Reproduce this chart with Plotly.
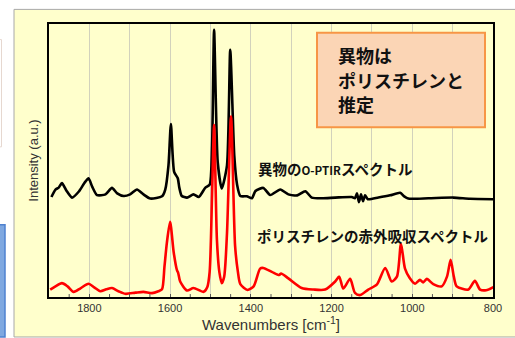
import plotly.graph_objects as go

# ---- data ----
optir_wn = [1894, 1884, 1876, 1868, 1857, 1843, 1826, 1812, 1802, 1793, 1781, 1760, 1744, 1731,
            1715, 1699, 1682, 1666, 1649, 1620, 1612, 1604, 1598, 1590, 1581, 1577, 1571, 1558,
            1542, 1529, 1513, 1502, 1496, 1491, 1482, 1472, 1459, 1451, 1441, 1434, 1426, 1410,
            1397, 1389, 1369, 1352, 1327, 1307, 1285, 1265, 1249, 1224, 1191, 1150, 1142, 1137,
            1132, 1127, 1122, 1117, 1110, 1084, 1055, 1030, 1020, 1010, 960, 898, 857, 799]
optir_int = [101.3, 109, 111, 115.7, 108, 100.7, 107, 116, 120.7, 112, 103.3, 104, 110.7, 105,
             102.3, 104, 109, 104, 99.7, 102, 109, 134, 176.7, 127.3, 120.7, 110.7, 102.3, 100.7,
             104, 101.3, 110.7, 114, 154, 274, 137.3, 110, 134, 253.3, 144, 114, 102.3, 102,
             100, 107.3, 110.7, 103.3, 109, 104, 103, 107.3, 100.7, 100, 100.7, 101.3, 100, 105,
             96, 104, 97, 103, 99, 100.7, 103, 105.7, 102, 99.7, 100, 100.7, 99.5, 99]

ps_wn = [1897, 1884, 1868, 1854, 1839, 1822, 1802, 1788, 1773, 1758, 1744, 1728, 1711, 1686,
         1666, 1645, 1629, 1620, 1614, 1608, 1600, 1591, 1583, 1580, 1575, 1558, 1542, 1517,
         1508, 1502, 1496, 1491, 1484, 1478, 1472, 1466, 1459, 1449, 1439, 1432, 1426, 1408,
         1393, 1377, 1369, 1348, 1330, 1325, 1307, 1274, 1245, 1216, 1191, 1181, 1171, 1154,
         1142, 1129, 1109, 1088, 1067, 1051, 1038, 1028, 1018, 1006, 993, 981, 973, 964,
         948, 927, 914, 905, 897, 890, 861, 845, 832, 817, 799]
ps_int = [5.7, 9, 12.3, 9, 3.3, 7, 11.7, 8, 4, 6, 7.3, 4, 1.3, 2.5,
          3.3, 2, 4, 6, 29, 54, 75.7, 44, 25.7, 23, 14, 4.7, 7.3, 3.3,
          8, 24, 104, 175.7, 57.3, 24, 12.3, 19, 64, 184.7, 51, 24, 11.3, 5.3,
          9, 27.3, 28, 24, 20.7, 22.3, 17.3, 7.3, 5.7, 5.7, 14, 19, 6.7, 16.7,
          2.3, 0, 5.7, 10.7, 28, 14, 19, 53, 27.3, 17.3, 11.7, 15.7, 13, 16.7,
          11.3, 9, 19, 36.3, 19, 9, 5.7, 14.7, 5.7, 5, 8.3]

tick_vals = [1800, 1600, 1400, 1200, 1000, 800]
grid_vals = [1900, 1800, 1700, 1600, 1500, 1400, 1300, 1200, 1100, 1000, 900, 800]
minor_tick_vals = [1850, 1750, 1650, 1550, 1450, 1350, 1250, 1150, 1050, 950, 850]

label_optir = "異物の<span style='font-size:11.5px'>O-PTIR</span>スペクトル"
label_ps = "ポリスチレンの赤外吸収スペクトル"
box_lines = ["異物は", "ポリスチレンと", "推定"]

# ---- layout helpers (pixel -> paper) ----
W, H = 515, 338
L, R, T, B = 49, 22, 24, 34
PW, PH = W - L - R, H - T - B


def px(x):
    return (x - L) / PW


def py(y):
    return (H - B - y) / PH


YELLOW = "#FFFFCC"
JP = "Noto Sans CJK JP"

fig = go.Figure()
fig.add_trace(go.Scatter(x=optir_wn, y=optir_int, mode="lines",
                         line=dict(color="black", width=2.6, shape="spline", smoothing=0.6),
                         showlegend=False))
fig.add_trace(go.Scatter(x=ps_wn, y=ps_int, mode="lines",
                         line=dict(color="#FF0000", width=2.6, shape="spline", smoothing=0.7),
                         showlegend=False))

shapes = [
    # slide panel
    dict(type="rect", xref="paper", yref="paper", x0=px(14), x1=px(520), y0=py(345), y1=py(9),
         fillcolor=YELLOW, line=dict(color="#A8A8A8", width=1), layer="below"),
    # blue fragment at left
    dict(type="rect", xref="paper", yref="paper", x0=px(-2), x1=px(5), y0=py(345), y1=py(230),
         fillcolor="#7FA8E0", line=dict(color="#4F81CF", width=1.5), layer="below"),
    # faint fragment at left
    dict(type="rect", xref="paper", yref="paper", x0=px(-5), x1=px(1.5), y0=py(150), y1=py(40),
         fillcolor="rgba(0,0,0,0)", line=dict(color="#E6D8D0", width=1), layer="below"),
    # callout box
    dict(type="rect", xref="paper", yref="paper", x0=px(317), x1=px(485), y0=py(130), y1=py(33),
         fillcolor="#FBD5B5", line=dict(color="#F79646", width=2)),
]
# small inside ticks at the half-hundreds
for v in minor_tick_vals:
    shapes.append(dict(type="line", xref="x", yref="paper", x0=v, x1=v, y0=0, y1=3 / PH,
                       line=dict(color="#555555", width=1)))

annotations = []
for i, t in enumerate(box_lines):
    annotations.append(dict(xref="paper", yref="paper", x=px(336), y=py(56 + 25 * i),
                            xanchor="left", yanchor="middle", showarrow=False, text=t,
                            font=dict(family=JP, size=18, color="#111111", weight="bold")))
annotations.append(dict(xref="paper", yref="paper", x=px(256), y=py(172), xanchor="left",
                        yanchor="middle", showarrow=False, text=label_optir,
                        font=dict(family=JP, size=14.5, color="#111111", weight="bold")))
annotations.append(dict(xref="paper", yref="paper", x=px(255), y=py(241), xanchor="left",
                        yanchor="middle", showarrow=False, text=label_ps,
                        font=dict(family=JP, size=14.5, color="#111111", weight="bold")))

fig.update_layout(
    width=W, height=H,
    margin=dict(l=L, r=R, t=T, b=B, pad=0),
    paper_bgcolor="white",
    plot_bgcolor=YELLOW,
    shapes=shapes,
    annotations=annotations,
    font=dict(family="Liberation Sans, Arial", color="#333333"),
)
fig.update_xaxes(
    range=[1900, 800], showline=True, linecolor="black", linewidth=1.5, mirror=True,
    tickvals=tick_vals, ticktext=[str(v) for v in tick_vals],
    ticks="inside", ticklen=3, tickcolor="#555555", tickfont=dict(size=11, color="#333333"),
    showgrid=True, gridcolor="#D2D2BC", gridwidth=1, zeroline=False,
    minor=dict(tickvals=grid_vals, showgrid=True, gridcolor="#D2D2BC", gridwidth=1,
               ticks="inside", ticklen=3, tickcolor="#555555"),
    title=dict(text="Wavenumbers [cm<sup>-1</sup>]", font=dict(size=15, color="#333333"), standoff=2),
)
fig.update_yaxes(
    range=[-2, 280], showline=True, linecolor="black", linewidth=1.5, mirror=True,
    showticklabels=False, ticks="", showgrid=False, zeroline=False,
    title=dict(text="Intensity (a.u.)", font=dict(size=13, color="#333333"), standoff=6),
)

fig.write_html("out.html", config={"displayModeBar": False},
               post_script="document.body.style.margin='0px';document.body.style.overflow='hidden';")
